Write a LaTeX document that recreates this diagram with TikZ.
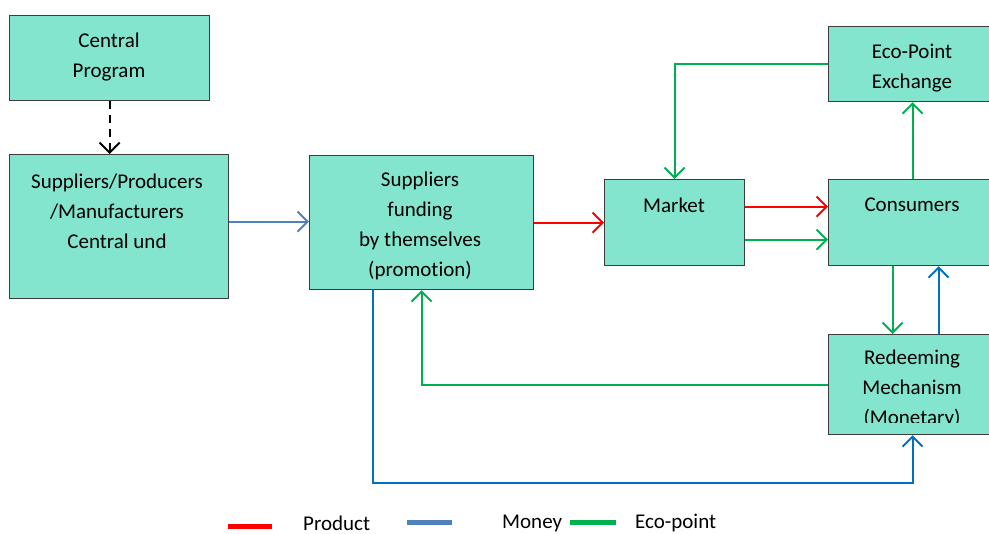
\documentclass[tikz,border=0pt]{standalone}
\usepackage{fontspec}
\setmainfont{Carlito}[Ligatures=NoCommon]
\usetikzlibrary{arrows.meta}
\definecolor{boxfill}{HTML}{83E5CD}
\definecolor{boxline}{HTML}{3C3C3C}
\definecolor{cred}{HTML}{FF0000}
\definecolor{cblue}{HTML}{0070C0}
\definecolor{csteel}{HTML}{4F81BD}
\definecolor{cgreen}{HTML}{00B050}
\tikzset{
 box/.style={draw=boxline, fill=boxfill, line width=1.2pt, inner sep=0pt, anchor=north west},
 txt/.style={align=center, inner sep=0pt, font=\fontsize{21}{30}\selectfont},
 flow/.style={line width=2pt, -{Straight Barb[length=10pt,width=20pt,line width=2pt]}},
 legbar/.style={line width=5pt},
}
\begin{document}
\begin{tikzpicture}[x=1pt,y=-1pt]
\useasboundingbox (0,0) rectangle (989,534);
\clip (0,0) rectangle (989,534);
% boxes
\node[box, minimum width=200pt, minimum height=85pt] (cp) at (9,15) {};
\node[box, minimum width=219pt, minimum height=144pt] (sp) at (9,154) {};
\node[box, minimum width=224pt, minimum height=134pt] (sf) at (309,155) {};
\node[box, minimum width=140pt, minimum height=86pt] (mk) at (604,179) {};
\node[box, minimum width=168pt, minimum height=86pt] (cs) at (828,179) {};
\node[box, minimum width=168pt, minimum height=75pt] (ex) at (828,26) {};
\node[box, minimum width=168pt, minimum height=100pt] (rd) at (828,334) {};
% texts
\node[txt] (cpt) at (109,57) {Central\\Program};
\node[txt] (spt) at (117,211) {Suppliers/Producers\\/Manufacturers\\Central und};
\node[txt] (sft) at (420,226) {Suppliers\\funding\\by themselves\\(promotion)};
\node[txt] (mkt) at (674,205) {Market};
\node[txt] (cst) at (912,205) {Consumers};
\node[txt] (ext) at (912,68) {Eco-Point\\Exchange};
\begin{scope}
\clip (828,334) rectangle (996,423);
\node[txt] (rdt) at (912,389) {Redeeming\\Mechanism\\(Monetary)};
\end{scope}
% connectors
\draw[flow, black, dash pattern=on 8pt off 6pt] (cp.south) -- (cp.south |- sp.north);
\draw[flow, csteel] ([yshift=5pt]sp.east) -- ([yshift=5pt]sp.east -| sf.west);
\draw[flow, cred] (sf.east) -- (sf.east -| mk.west);
\draw[flow, cred] ([yshift=16pt]mk.east) -- ([yshift=16pt]mk.east -| cs.west);
\draw[flow, cgreen] ([yshift=-17pt]mk.east) -- ([yshift=-17pt]mk.east -| cs.west);
\draw[flow, cgreen] (cs.north) -- (ex.south);
\draw[flow, cgreen] (ex.west) -| (mk.north);
\draw[flow, cgreen] ([xshift=-20pt]cs.south) -- ([xshift=-20pt]cs.south |- rd.north);
\draw[flow, cblue] ([xshift=26pt]rd.north) -- ([xshift=26pt]rd.north |- cs.south);
\draw[flow, cgreen] (rd.west) -| (sf.south);
\coordinate (bl) at (373,483);
\draw[flow, cblue] (sf.south -| bl) -- (bl) -| (rd.south);
% legend
\draw[legbar, cred] (228,527) -- (272,527);
\node[txt, anchor=west] (lp) at (303,523) {Product};
\draw[legbar, csteel] (407,523) -- (452,523);
\node[txt, anchor=west] (lm) at (502,523) {Money};
\draw[legbar, cgreen] (570,523) -- (616,523);
\node[txt, anchor=west] (le) at (635,523) {Eco-point};
\end{tikzpicture}
\end{document}
